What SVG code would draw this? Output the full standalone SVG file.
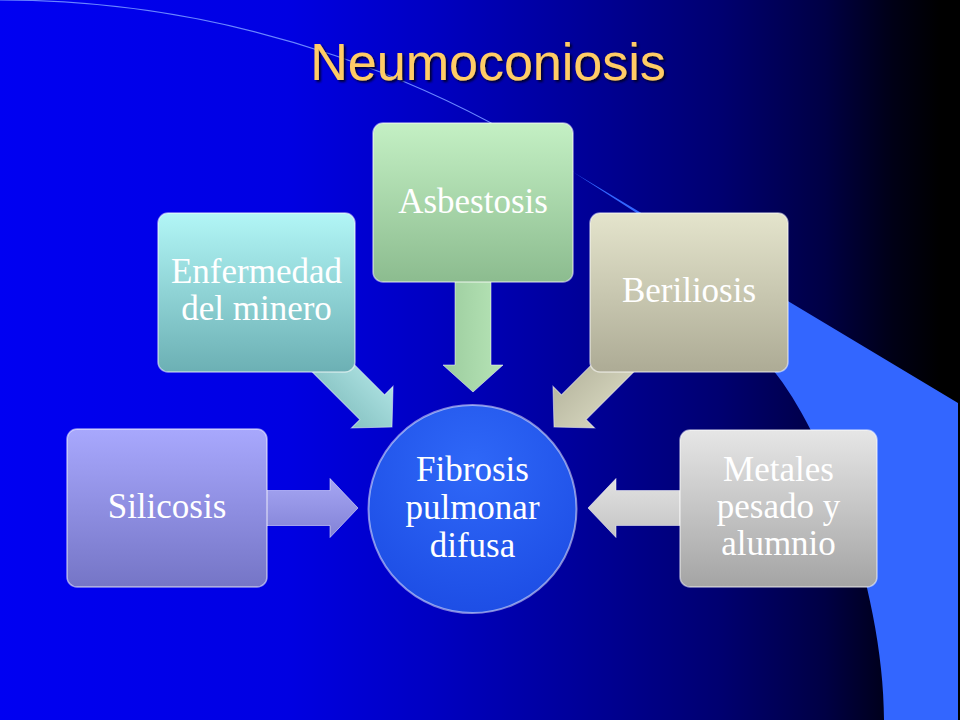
<svg xmlns="http://www.w3.org/2000/svg" width="960" height="720" viewBox="0 0 960 720">
  <defs>
    <linearGradient id="bg" x1="0" y1="0" x2="1" y2="0">
      <stop offset="0" stop-color="#0000f2"/>
      <stop offset="0.3" stop-color="#0000e2"/>
      <stop offset="0.45" stop-color="#0000c2"/>
      <stop offset="0.6" stop-color="#00009a"/>
      <stop offset="0.75" stop-color="#000070"/>
      <stop offset="0.86" stop-color="#000044"/>
      <stop offset="0.93" stop-color="#000016"/>
      <stop offset="0.98" stop-color="#000000"/>
    </linearGradient>
    <linearGradient id="gSil" x1="0" y1="0" x2="0" y2="1">
      <stop offset="0" stop-color="#a8a8fd"/>
      <stop offset="1" stop-color="#7575c6"/>
    </linearGradient>
    <linearGradient id="gEnf" x1="0" y1="0" x2="0" y2="1">
      <stop offset="0" stop-color="#b2f6f6"/>
      <stop offset="1" stop-color="#6cb0b4"/>
    </linearGradient>
    <linearGradient id="gAsb" x1="0" y1="0" x2="0" y2="1">
      <stop offset="0" stop-color="#c4f0c4"/>
      <stop offset="1" stop-color="#8cbc8f"/>
    </linearGradient>
    <linearGradient id="gBer" x1="0" y1="0" x2="0" y2="1">
      <stop offset="0" stop-color="#e4e4cc"/>
      <stop offset="1" stop-color="#adab95"/>
    </linearGradient>
    <linearGradient id="gMet" x1="0" y1="0" x2="0" y2="1">
      <stop offset="0" stop-color="#e6e6e6"/>
      <stop offset="1" stop-color="#a4a4a4"/>
    </linearGradient>
    <linearGradient id="aSil" x1="0" y1="0" x2="0" y2="1">
      <stop offset="0" stop-color="#a6a6f4"/>
      <stop offset="1" stop-color="#8282d6"/>
    </linearGradient>
    <linearGradient id="aEnf" x1="0" y1="0" x2="0" y2="1">
      <stop offset="0" stop-color="#aee2e2"/>
      <stop offset="1" stop-color="#86c2c2"/>
    </linearGradient>
    <linearGradient id="aAsb" x1="0" y1="0" x2="0" y2="1">
      <stop offset="0" stop-color="#b6e4b6"/>
      <stop offset="1" stop-color="#9ccc9e"/>
    </linearGradient>
    <linearGradient id="aBer" x1="0" y1="0" x2="0" y2="1">
      <stop offset="0" stop-color="#d4d4bc"/>
      <stop offset="1" stop-color="#b8b7a0"/>
    </linearGradient>
    <linearGradient id="aMet" x1="0" y1="0" x2="0" y2="1">
      <stop offset="0" stop-color="#c4c4c4"/>
      <stop offset="1" stop-color="#e2e2e2"/>
    </linearGradient>
    <radialGradient id="gCir" cx="0.5" cy="0.3" r="0.75">
      <stop offset="0" stop-color="#2f68f8"/>
      <stop offset="1" stop-color="#1c4ce4"/>
    </radialGradient>
    <filter id="tsh" x="-10%" y="-10%" width="120%" height="130%">
      <feDropShadow dx="2" dy="2" stdDeviation="0.8" flood-color="#000020" flood-opacity="0.9"/>
    </filter>
  </defs>
  <style>
    .box { stroke: #ffffff; stroke-opacity: 0.55; stroke-width: 1.5; }
    .arr { stroke: #ffffff; stroke-opacity: 0.5; stroke-width: 1; }
    .lbl { font-family: "Liberation Serif", "Times New Roman", serif; font-size: 35px; fill: #ffffff; text-anchor: middle; }
    .title { font-family: "Liberation Sans", Arial, sans-serif; font-size: 52px; fill: #ffcc66; text-anchor: middle; }
  </style>

  <!-- background -->
  <rect x="0" y="0" width="960" height="720" fill="url(#bg)"/>
  <path d="M573,172 L958,403 L958,720 L884,720 C884,600 830,440 773,370 C740,320 700,250 646,219 Z" fill="#3366ff"/>
  <path d="M0,0 C250,0 450,90 573,172" fill="none" stroke="#6a86ff" stroke-width="1.2"/>

  <!-- title -->
  <text class="title" x="488" y="80" filter="url(#tsh)">Neumoconiosis</text>

  <!-- connectors -->
  <g id="connectors">
    <path class="arr" fill="url(#aSil)" transform="translate(358,508)" d="M-92,-17.5 H-28 V-29.5 L0,0 L-28,29.5 V17.5 H-92 Z"/>
    <path class="arr" fill="url(#aEnf)" transform="translate(392,427) rotate(45)" d="M-100,-17.5 H-28 V-29.5 L0,0 L-28,29.5 V17.5 H-100 Z"/>
    <path class="arr" fill="url(#aAsb)" transform="translate(473,392) rotate(90)" d="M-112,-18 H-27 V-30 L0,0 L-27,30 V18 H-112 Z"/>
    <path class="arr" fill="url(#aBer)" transform="translate(554,427) rotate(135)" d="M-100,-17.5 H-28 V-29.5 L0,0 L-28,29.5 V17.5 H-100 Z"/>
    <path class="arr" fill="url(#aMet)" transform="translate(588,508) rotate(180)" d="M-92,-17.5 H-28 V-29.5 L0,0 L-28,29.5 V17.5 H-92 Z"/>
  </g>

  <!-- nodes -->
  <g id="silicosis">
    <rect class="box" x="67" y="429" width="200" height="158" rx="10" fill="url(#gSil)"/>
    <text class="lbl" x="167" y="518">Silicosis</text>
  </g>
  <g id="enfermedad">
    <rect class="box" x="158" y="213" width="197" height="159" rx="10" fill="url(#gEnf)"/>
    <text class="lbl" x="256.5" y="283">Enfermedad</text>
    <text class="lbl" x="256.5" y="320">del minero</text>
  </g>
  <g id="asbestosis">
    <rect class="box" x="373" y="123" width="200" height="159" rx="10" fill="url(#gAsb)"/>
    <text class="lbl" x="473" y="213">Asbestosis</text>
  </g>
  <g id="beriliosis">
    <rect class="box" x="590" y="213" width="198" height="159" rx="10" fill="url(#gBer)"/>
    <text class="lbl" x="689" y="302">Beriliosis</text>
  </g>
  <g id="metales">
    <rect class="box" x="680" y="430" width="197" height="157" rx="10" fill="url(#gMet)"/>
    <text class="lbl" x="778.5" y="481">Metales</text>
    <text class="lbl" x="778.5" y="518">pesado y</text>
    <text class="lbl" x="778.5" y="555">alumnio</text>
  </g>
  <g id="fibrosis">
    <circle cx="472.5" cy="509" r="104" fill="url(#gCir)" stroke="#ffffff" stroke-opacity="0.5" stroke-width="2"/>
    <text class="lbl" x="472.5" y="481">Fibrosis</text>
    <text class="lbl" x="472.5" y="519">pulmonar</text>
    <text class="lbl" x="472.5" y="557">difusa</text>
  </g>
</svg>
